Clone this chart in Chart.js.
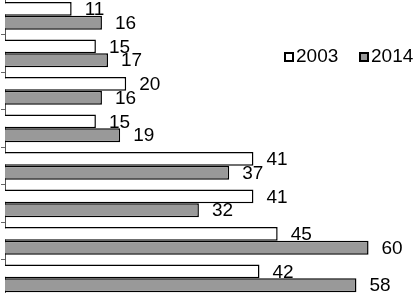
<!DOCTYPE html>
<html>
<head>
<meta charset="utf-8">
<script src="https://cdn.jsdelivr.net/npm/chart.js@4/dist/chart.umd.min.js"></script>
<style>
  html, body { margin: 0; padding: 0; background: #fff; overflow: hidden; }
  #wrap { position: absolute; left: 0; top: -3px; width: 414px; height: 300px; }
</style>
</head>
<body>
<div id="wrap"><canvas id="barChart" width="414" height="300"></canvas></div>
<script>
// categories are not labelled in the picture
const categories = ['A', 'B', 'C', 'D', 'E', 'F', 'G', 'H'];
const seriesNames = ['2003', '2014'];
const values2003 = [11, 15, 20, 15, 41, 41, 45, 42];
const values2014 = [16, 17, 16, 19, 37, 32, 60, 58];

const FONT = '19px "Liberation Sans", Arial, sans-serif';

// value labels right of every bar
const barLabels = {
  id: 'barLabels',
  afterDatasetsDraw(chart) {
    const ctx = chart.ctx;
    ctx.save();
    ctx.font = FONT;
    ctx.fillStyle = '#000';
    ctx.textAlign = 'left';
    ctx.textBaseline = 'middle';
    chart.data.datasets.forEach((ds, i) => {
      chart.getDatasetMeta(i).data.forEach((bar, j) => {
        ctx.fillText(String(ds.data[j]), bar.x + 13, bar.y + 1);
      });
    });
    ctx.restore();
  },
};

// small legend in the middle right
const sideLegend = {
  id: 'sideLegend',
  afterDraw(chart) {
    const ctx = chart.ctx;
    const spots = [285, 360];
    const y = 56;
    ctx.save();
    ctx.font = FONT;
    ctx.textAlign = 'left';
    ctx.textBaseline = 'middle';
    chart.data.datasets.forEach((ds, i) => {
      const x = spots[i];
      ctx.fillStyle = ds.backgroundColor;
      ctx.strokeStyle = '#000';
      ctx.lineWidth = 2;
      ctx.fillRect(x, y, 8, 8);
      ctx.strokeRect(x, y, 8, 8);
      ctx.fillStyle = '#000';
      ctx.fillText(ds.label, x + 11, y + 4);
    });
    ctx.restore();
  },
};

new Chart(document.getElementById('barChart'), {
  type: 'bar',
  data: {
    labels: categories,
    datasets: [
      {
        label: seriesNames[0],
        data: values2003,
        backgroundColor: '#ffffff',
        borderColor: '#000000',
        borderWidth: 1.5,
      },
      {
        label: seriesNames[1],
        data: values2014,
        backgroundColor: '#999999',
        borderColor: '#000000',
        borderWidth: 1.5,
      },
    ],
  },
  options: {
    indexAxis: 'y',
    responsive: false,
    animation: false,
    categoryPercentage: 0.74,
    barPercentage: 1.0,
    layout: { padding: { left: 1, right: 0, top: 0, bottom: 0 } },
    scales: {
      x: { display: false, min: 0, max: 67.5 },
      y: {
        grid: { drawOnChartArea: false, tickLength: 4, color: '#666' },
        border: { color: '#555', width: 1 },
        ticks: { display: false },
      },
    },
    plugins: {
      legend: { display: false },
      tooltip: { enabled: false },
    },
  },
  plugins: [barLabels, sideLegend],
});
</script>
</body>
</html>
